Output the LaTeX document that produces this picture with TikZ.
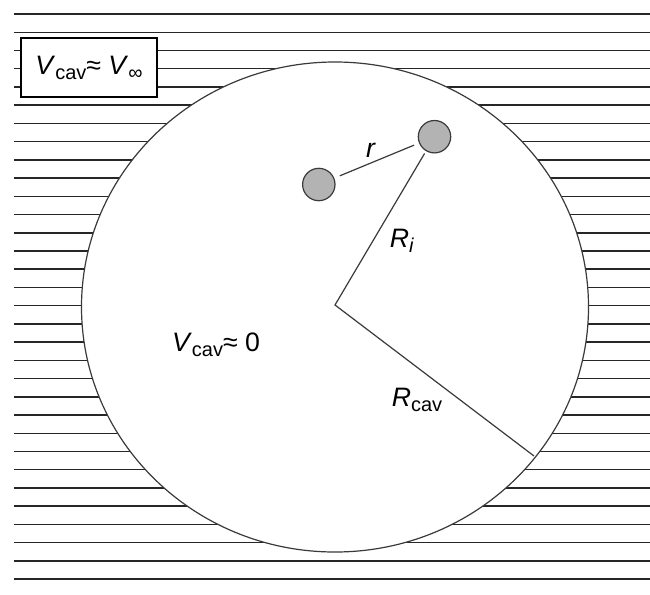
\documentclass[tikz,border=0pt]{standalone}
\usepackage{fontspec}
\setmainfont{Liberation Sans}
\definecolor{cavgray}{HTML}{B3B3B3}
\definecolor{cavline}{HTML}{3A3A3A}
\tikzset{
  sea/.style={line width=1.1pt, black!85},
  particle/.style={circle, draw=cavline, fill=cavgray, line width=0.9pt, minimum size=24.3pt, inner sep=0pt},
  bigtxt/.style={font=\fontsize{20}{24}\selectfont, inner sep=0pt}
}
\newcommand{\cavsub}[1]{\raisebox{-0.35ex}{\fontsize{15}{18}\selectfont #1}}

\begin{document}
\begin{tikzpicture}[x=0.75pt,y=-0.75pt]
  \useasboundingbox (0,0) rectangle (650,594);
  % surrounding medium
  \foreach \k in {0,...,31}
    \draw[sea] (14,14+18.23*\k) -- (650,14+18.23*\k);
  % cavity
  \draw[cavline, line width=0.9pt, fill=white] (335,307) ellipse [x radius=253.5, y radius=245];
  \node[draw, line width=1pt, fill=white, minimum width=102pt, minimum height=44.3pt] (far) at (89,67.5) {};
  \node[bigtxt] (vinf) at (far.center) {\textit{V}\cavsub{cav}≈ \textit{V}\cavsub{∞}};
  \node[bigtxt] (vzero) at (216,345) {\textit{V}\cavsub{cav}≈ 0};
  % particles and radii
  \node[particle] (p1) at (318.8,184.5) {};
  \node[particle] (p2) at (434.5,136.7) {};
  \coordinate (ctr) at (335,305);
  \coordinate (rim) at (534,456);
  \draw[cavline, line width=0.9pt, shorten <=4.5pt, shorten >=4pt] (p1) -- (p2);
  \draw[cavline, line width=0.9pt, shorten <=2pt] (p2) -- (ctr) -- (rim);
  \node[bigtxt] (rlab) at (371,150) {\textit{r}};
  \node[bigtxt] (rilab) at (402,241) {\textit{R}\cavsub{\textit{i}}};
  \node[bigtxt] (rcavlab) at (417,400) {\textit{R}\cavsub{cav}};
\end{tikzpicture}
\end{document}
